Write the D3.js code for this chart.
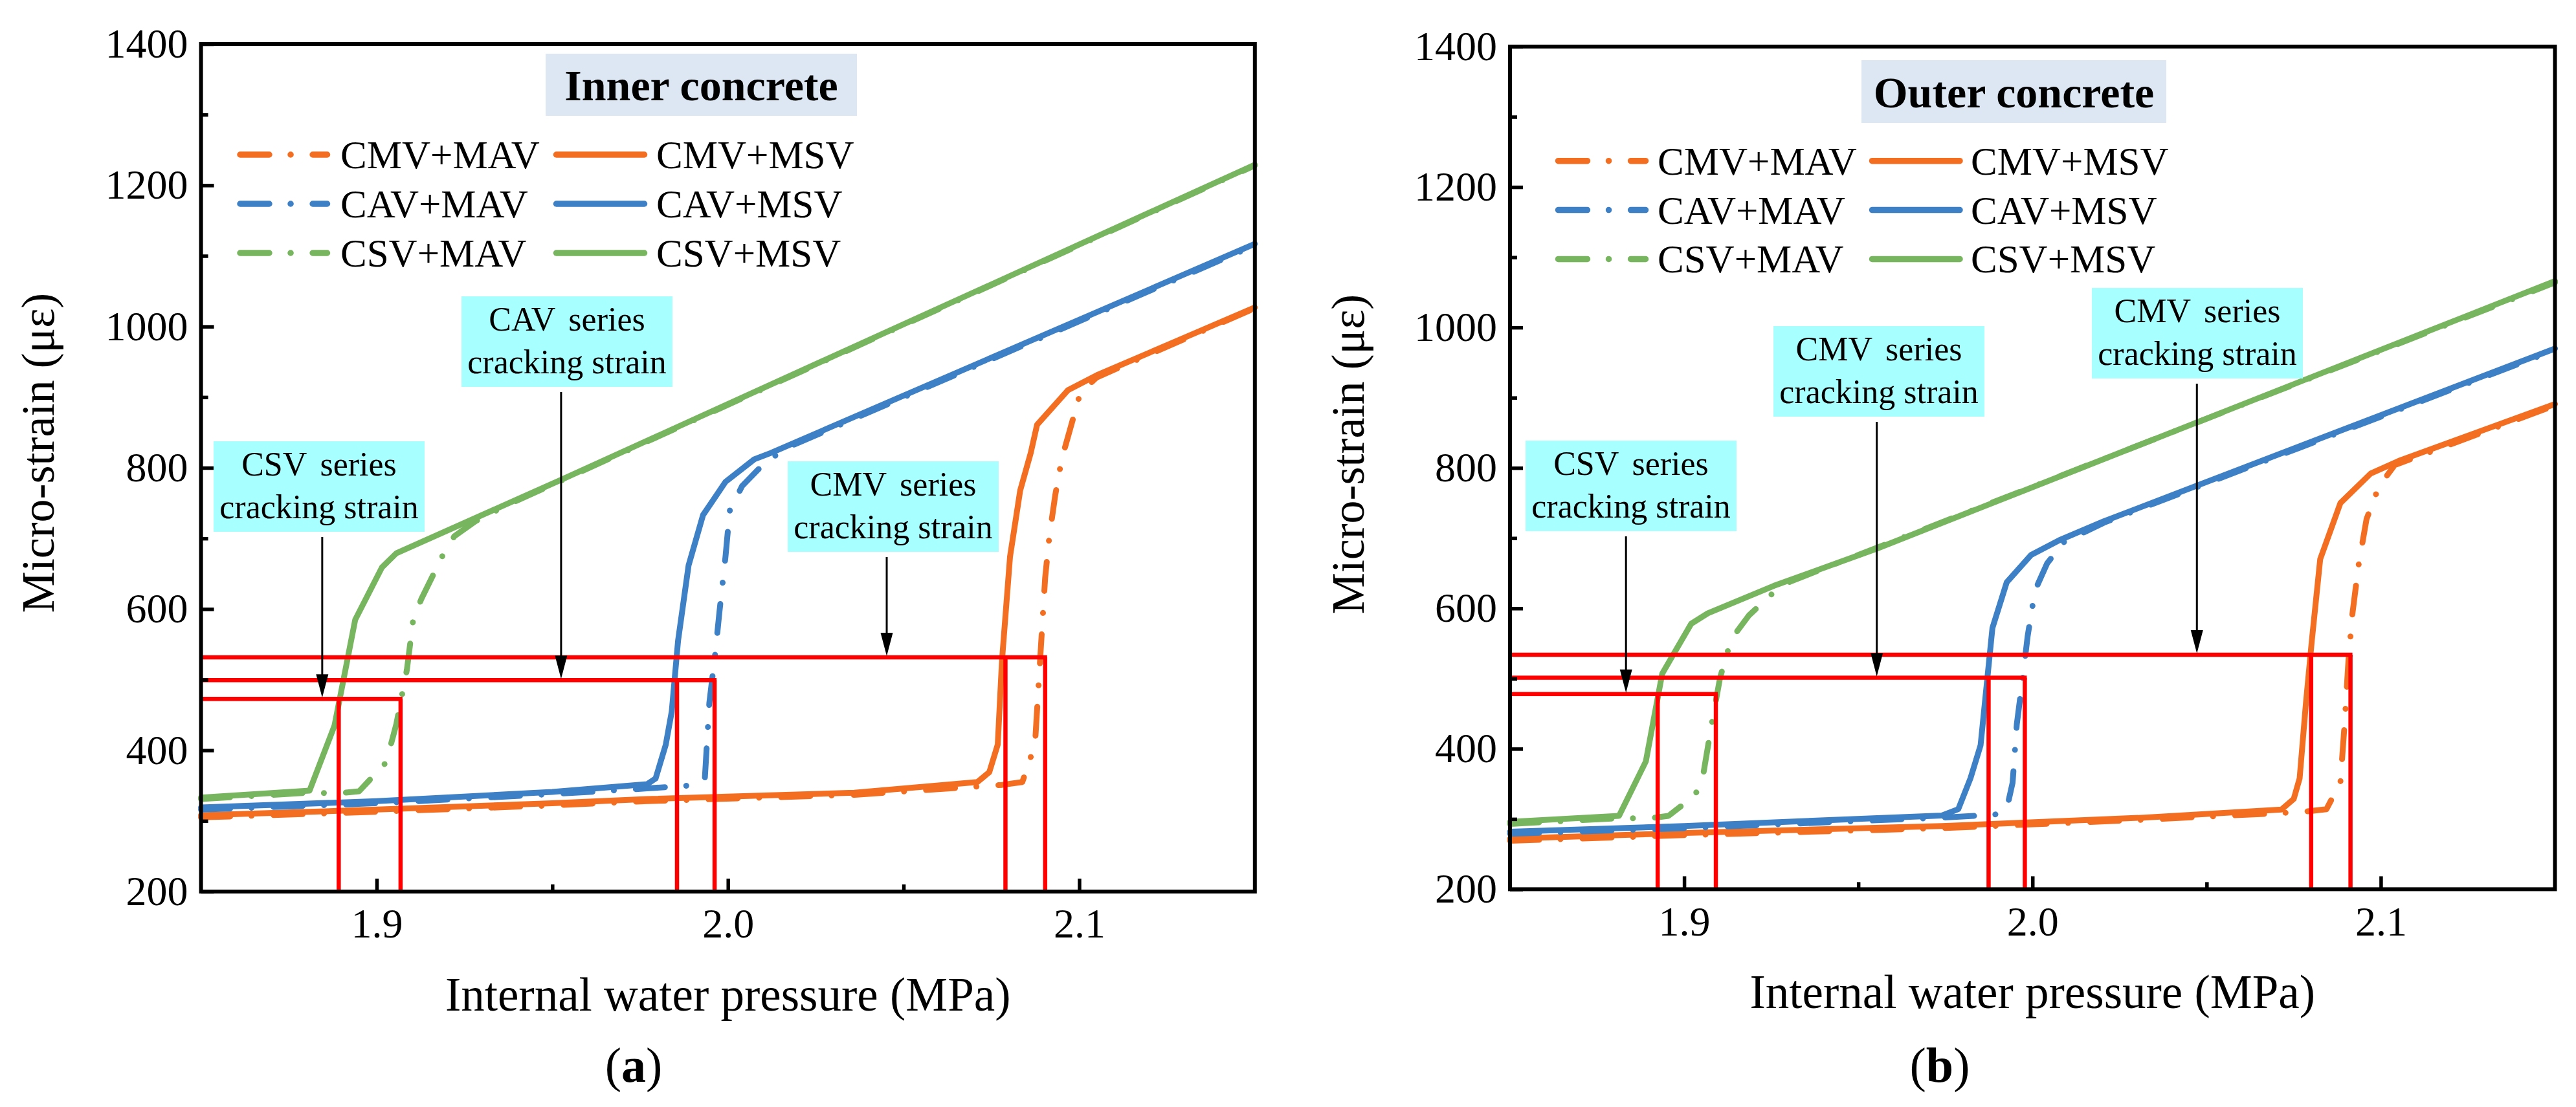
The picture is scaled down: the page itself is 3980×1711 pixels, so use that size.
<!DOCTYPE html>
<html>
<head>
<meta charset="utf-8">
<script src="https://cdn.jsdelivr.net/npm/d3@7"></script>
<style>
  body { margin: 0; background: #fff; }
  svg { display: block; }
</style>
</head>
<body>
<svg id="chart"></svg>
<script>
// axis ranges and ticks
const pressureDomain = [1.85, 2.15];
const strainDomain = [200, 1400];
const pressureTicks = [1.9, 2.0, 2.1];
const pressureMinorTicks = [1.95, 2.05];
const strainTicks = [200, 400, 600, 800, 1000, 1200, 1400];
const strainMinorTicks = [300, 500, 700, 900, 1100, 1300];

const seriesNames = ["CMV+MAV", "CMV+MSV", "CAV+MAV", "CAV+MSV", "CSV+MAV", "CSV+MSV"];

// (a) inner concrete : [pressure (MPa), micro-strain]
const innerCmvMav = [[1.85,305],[1.90,313],[1.95,322],[1.977,328],[2.036,337],[2.078,351],[2.0838,355],[2.0874,408],[2.0892,555],[2.0903,644],[2.0915,703],[2.0932,762],[2.095,812],[2.1003,906],[2.105,928],[2.15,1026]];
const innerCmvMsv = [[1.85,308],[1.90,316],[1.95,325],[1.977,331],[2.036,340],[2.071,355],[2.0744,369],[2.0768,408],[2.078,526],[2.0803,674],[2.0832,768],[2.0862,821],[2.088,861],[2.0968,910],[2.105,931],[2.15,1027]];
const innerCavMav = [[1.85,316],[1.90,325],[1.95,338],[1.977,346],[1.9888,350],[1.9934,358],[1.9947,467],[1.9964,538],[1.9976,597],[1.9993,674],[2.0005,739],[2.004,774],[2.0087,798],[2.0157,826],[2.15,1115]];
const innerCavMsv = [[1.85,319],[1.90,328],[1.95,341],[1.977,352],[1.9794,360],[1.9823,408],[1.984,455],[1.9858,555],[1.9888,662],[1.9929,733],[1.9993,780],[2.0075,812],[2.0122,821],[2.15,1117]];
const innerCsvMav = [[1.85,331],[1.8809,340],[1.889,339],[1.895,342],[1.9027,383],[1.9056,437],[1.9086,514],[1.9104,585],[1.9127,614],[1.9192,680],[1.9221,703],[1.928,724],[1.9362,745],[2.15,1228]];
const innerCsvMsv = [[1.85,333],[1.8809,343],[1.888,435],[1.8939,585],[1.9015,659],[1.9056,679],[1.9525,783],[2.15,1229]];

// (b) outer concrete
const outerCmvMav = [[1.85,269],[1.90,277],[1.974,287],[2.032,299],[2.0733,309],[2.0774,310],[2.0844,314],[2.0884,352],[2.0896,435],[2.0907,525],[2.0918,590],[2.0936,661],[2.0959,727],[2.0995,774],[2.104,804],[2.15,889]];
const outerCmvMsv = [[1.85,272],[1.90,280],[1.974,290],[2.032,302],[2.0715,313.5],[2.075,328.5],[2.0767,358],[2.0785,465],[2.0802,554],[2.0826,670],[2.0884,750],[2.0971,792],[2.1052,810],[2.15,891]];
const outerCavMav = [[1.85,279],[1.90,287],[1.974,302],[1.9891,306],[1.9926,314],[1.9943,352],[1.9955,435],[1.9972,501],[1.9986,560],[2.0007,625],[2.0042,664],[2.0089,694],[2.0205,722],[2.15,968]];
const outerCavMsv = [[1.85,282],[1.90,290],[1.974,305],[1.9787,314],[1.9822,358],[1.9851,405],[1.9885,572],[1.9926,637],[1.9996,676],[2.0077,697],[2.0205,724],[2.15,970]];
const outerCsvMav = [[1.85,293],[1.8807,301],[1.8902,301],[1.8955,304.5],[1.9032,334],[1.9056,367],[1.9079,435],[1.9103,501],[1.9127,542],[1.915,566],[1.9186,590],[1.9251,620],[1.9304,638],[2.15,1064]];
const outerCsvMsv = [[1.85,296],[1.8813,304.5],[1.889,382],[1.8937,507],[1.902,578],[1.9068,593],[1.9257,632],[1.9553,685],[2.15,1066]];

// cracking strain lines: strain level and the two pressures where MSV / MAV reach it
const crackSeries = ["CSV", "CAV", "CMV"];
const innerCrackStrain = [472.7, 499.2, 531.7];
const innerCrackPressure = [[1.8892, 1.9068], [1.9855, 1.9962], [2.0790, 2.0903]];
const outerCrackStrain = [478, 501.3, 534];
const outerCrackPressure = [[1.8924, 1.9091], [1.9874, 1.9978], [2.0800, 2.0913]];

// callouts: label and pressure where the arrow points down to a crack line
const innerNoteLabels = ["CSV series", "CAV series", "CMV series"];
const innerNotePressure = [1.8845, 1.9525, 2.0452];
const outerNoteLabels = ["CSV series", "CMV series", "CMV series"];
const outerNotePressure = [1.8833, 1.9553, 2.0472];

// ---- drawing ----
const W = 3980, H = 1711;
const FONT = "'Liberation Serif', 'Times New Roman', serif";
const colors = { CMV: "#F36E21", CAV: "#3D80C5", CSV: "#77B55F" };
const dashDot = "45,33,0.1,34";

const svg = d3.select("#chart").attr("width", W).attr("height", H)
  .style("font-family", FONT);
svg.append("rect").attr("width", W).attr("height", H).attr("fill", "#fff");

const panels = [
  {
    sub: "a", title: "Inner concrete",
    left: 310.6, right: 1938.8, top: 68, bottom: 1378,
    titleBox: { x: 843, y: 83, w: 481, h: 96 },
    legend: { rows: [239, 315, 391], c1: [371, 505.5], t1: 526, c2: [859.5, 995.5], t2: 1014 },
    yLabel: [83, 700], xLabelY: 1562, subPos: [979, 1672],
    boxes: [[330, 682], [713, 458], [1217, 713]],
    series: [innerCmvMav, innerCmvMsv, innerCavMav, innerCavMsv, innerCsvMav, innerCsvMsv],
    crackStrain: innerCrackStrain, crackPressure: innerCrackPressure,
    noteLabels: innerNoteLabels, notePressure: innerNotePressure
  },
  {
    sub: "b", title: "Outer concrete",
    left: 2333, right: 3947.5, top: 72, bottom: 1374.4,
    titleBox: { x: 2876, y: 93, w: 471, h: 97 },
    legend: { rows: [248.7, 324.6, 400.4], c1: [2407.5, 2542.5], t1: 2561, c2: [2892.5, 3028], t2: 3045 },
    yLabel: [2107, 702], xLabelY: 1558, subPos: [2997, 1672],
    boxes: [[2357, 681], [2740, 504], [3232, 445]],
    series: [outerCmvMav, outerCmvMsv, outerCavMav, outerCavMsv, outerCsvMav, outerCsvMsv],
    crackStrain: outerCrackStrain, crackPressure: outerCrackPressure,
    noteLabels: outerNoteLabels, notePressure: outerNotePressure
  }
];

panels.forEach(p => {
  const x = d3.scaleLinear().domain(pressureDomain).range([p.left, p.right]);
  const y = d3.scaleLinear().domain(strainDomain).range([p.bottom, p.top]);
  const g = svg.append("g");

  // curves
  const line = d3.line().x(d => x(d[0])).y(d => y(d[1])).curve(d3.curveLinear);
  p.series.forEach((data, i) => {
    const name = seriesNames[i];
    const dashed = name.endsWith("MAV");
    g.append("path")
      .attr("d", line(data))
      .attr("fill", "none")
      .attr("stroke", colors[name.slice(0, 3)])
      .attr("stroke-width", 9)
      .attr("stroke-linecap", "round")
      .attr("stroke-linejoin", "round")
      .attr("stroke-dasharray", dashed ? dashDot : null);
  });

  // red cracking-strain frames
  const red = g.append("g").attr("stroke", "#ff0000").attr("stroke-width", 6.5).attr("fill", "none");
  p.crackStrain.forEach((s, i) => {
    const [p1, p2] = p.crackPressure[i];
    red.append("line").attr("x1", x(pressureDomain[0])).attr("x2", x(p2) + 3)
      .attr("y1", y(s)).attr("y2", y(s));
    [p1, p2].forEach(v => {
      red.append("line").attr("x1", x(v)).attr("x2", x(v))
        .attr("y1", y(strainDomain[0])).attr("y2", y(s));
    });
  });

  // frame
  g.append("rect")
    .attr("x", p.left).attr("y", p.top)
    .attr("width", p.right - p.left).attr("height", p.bottom - p.top)
    .attr("fill", "none").attr("stroke", "#000").attr("stroke-width", 6);

  // axes with inward ticks
  const yAxis = g.append("g").attr("transform", `translate(${p.left},0)`)
    .call(d3.axisLeft(y).tickValues(strainTicks).tickFormat(d3.format("d")).tickSize(-20).tickPadding(20));
  const yMinor = g.append("g").attr("transform", `translate(${p.left},0)`)
    .call(d3.axisLeft(y).tickValues(strainMinorTicks).tickSize(-11).tickFormat(""));
  const xAxis = g.append("g").attr("transform", `translate(0,${p.bottom})`)
    .call(d3.axisBottom(x).tickValues(pressureTicks).tickFormat(d3.format(".1f")).tickSize(-20).tickPadding(26));
  const xMinor = g.append("g").attr("transform", `translate(0,${p.bottom})`)
    .call(d3.axisBottom(x).tickValues(pressureMinorTicks).tickSize(-11).tickFormat(""));
  [yAxis, yMinor, xAxis, xMinor].forEach(a => {
    a.select(".domain").remove();
    a.selectAll("line").attr("stroke", "#000").attr("stroke-width", 5.5);
    a.selectAll("text").attr("font-family", FONT).attr("font-size", 64).attr("fill", "#000");
  });

  // axis titles
  g.append("text")
    .attr("transform", `translate(${p.yLabel[0]},${p.yLabel[1]}) rotate(-90)`)
    .attr("text-anchor", "middle").attr("font-size", 72)
    .text("Micro-strain (με)");
  g.append("text")
    .attr("x", (p.left + p.right) / 2).attr("y", p.xLabelY)
    .attr("text-anchor", "middle").attr("font-size", 73)
    .text("Internal water pressure (MPa)");
  const sub = g.append("text")
    .attr("x", p.subPos[0]).attr("y", p.subPos[1])
    .attr("text-anchor", "middle").attr("font-size", 76);
  sub.append("tspan").text("(");
  sub.append("tspan").attr("font-weight", "bold").text(p.sub);
  sub.append("tspan").text(")");

  // title box
  const tb = p.titleBox;
  g.append("rect").attr("x", tb.x).attr("y", tb.y).attr("width", tb.w).attr("height", tb.h)
    .attr("fill", "#DCE7F3");
  g.append("text")
    .attr("x", tb.x + tb.w / 2).attr("y", tb.y + tb.h / 2 + 24)
    .attr("text-anchor", "middle").attr("font-size", 68).attr("font-weight", "bold")
    .text(p.title);

  // legend: rows CMV / CAV / CSV, columns MAV / MSV
  const lg = p.legend;
  lg.rows.forEach((ry, r) => {
    [0, 1].forEach(c => {
      const name = seriesNames[r * 2 + c];
      const seg = c === 0 ? lg.c1 : lg.c2;
      g.append("line")
        .attr("x1", seg[0]).attr("x2", seg[1]).attr("y1", ry).attr("y2", ry)
        .attr("stroke", colors[name.slice(0, 3)])
        .attr("stroke-width", 9.5)
        .attr("stroke-linecap", "round")
        .attr("stroke-dasharray", c === 0 ? dashDot : null);
      g.append("text")
        .attr("x", c === 0 ? lg.t1 : lg.t2).attr("y", ry + 21)
        .attr("font-size", 61)
        .text(name);
    });
  });

  // callout boxes with arrows
  const bw = 326, bh = 140;
  p.boxes.forEach((b, i) => {
    g.append("rect").attr("x", b[0]).attr("y", b[1]).attr("width", bw).attr("height", bh)
      .attr("fill", "#A8FFFF");
    g.append("text").attr("x", b[0] + bw / 2).attr("y", b[1] + 53)
      .attr("text-anchor", "middle").attr("font-size", 52).attr("word-spacing", 8)
      .text(p.noteLabels[i]);
    g.append("text").attr("x", b[0] + bw / 2).attr("y", b[1] + 119)
      .attr("text-anchor", "middle").attr("font-size", 52)
      .text("cracking strain");

    const ax = x(p.notePressure[i]);
    const tip = y(p.crackStrain[i]) - 2;
    const headLen = 36, headW = 19;
    g.append("line")
      .attr("x1", ax).attr("x2", ax)
      .attr("y1", b[1] + bh + 8).attr("y2", tip - headLen + 2)
      .attr("stroke", "#000").attr("stroke-width", 3);
    g.append("path")
      .attr("d", `M${ax - headW / 2},${tip - headLen} L${ax + headW / 2},${tip - headLen} L${ax},${tip} Z`)
      .attr("fill", "#000");
  });
});
</script>
</body>
</html>
